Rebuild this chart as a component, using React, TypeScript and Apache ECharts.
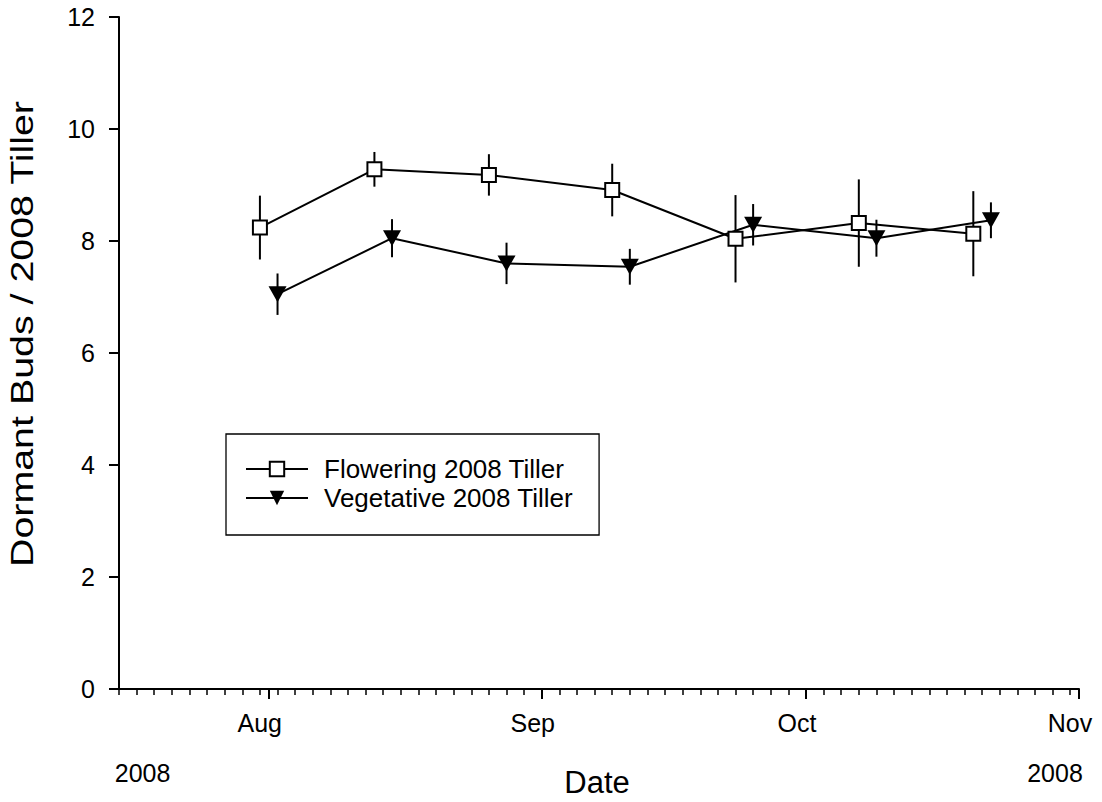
import { useEffect, useRef } from "react";
import * as echarts from "echarts";

// ---- data ----
const axisStartDate = "2008-07-15";
const axisEndDate = "2008-11-01";
const monthTickDates = ["2008-08-01", "2008-09-01", "2008-10-01", "2008-11-01"];
const monthTickLabels = ["Aug", "Sep", "Oct", "Nov"];
const yearLabels = ["2008", "2008"];

const floweringName = "Flowering 2008 Tiller";
const floweringDates = ["2008-07-31", "2008-08-13", "2008-08-26", "2008-09-09", "2008-09-23", "2008-10-07", "2008-10-20"];
const floweringMeans = [8.24, 9.28, 9.18, 8.91, 8.04, 8.32, 8.13];
const floweringErrors = [0.57, 0.31, 0.37, 0.47, 0.78, 0.78, 0.76];

const vegetativeName = "Vegetative 2008 Tiller";
const vegetativeDates = ["2008-08-02", "2008-08-15", "2008-08-28", "2008-09-11", "2008-09-25", "2008-10-09", "2008-10-22"];
const vegetativeMeans = [7.05, 8.05, 7.6, 7.54, 8.29, 8.05, 8.37];
const vegetativeErrors = [0.37, 0.34, 0.37, 0.32, 0.37, 0.33, 0.32];

const yTitle = "Dormant Buds / 2008 Tiller";
const xTitle = "Date";

// ---- helpers ----
const FONT = "'Liberation Sans', Arial, Helvetica, sans-serif";
const DAY_MS = 86400000;
const dayOf = (s: string) =>
  Math.round((Date.parse(s + "T00:00:00Z") - Date.parse(axisStartDate + "T00:00:00Z")) / DAY_MS);

const errorSeries = (dates: string[], means: number[], errs: number[]) => ({
  type: "custom",
  silent: true,
  z: 1,
  xAxisIndex: 0,
  yAxisIndex: 0,
  encode: { x: 0, y: [1, 2] },
  data: dates.map((d, i) => [dayOf(d), means[i] - errs[i], means[i] + errs[i]]),
  renderItem: (_params: any, api: any) => {
    const lo = api.coord([api.value(0), api.value(1)]);
    const hi = api.coord([api.value(0), api.value(2)]);
    return {
      type: "line",
      shape: { x1: lo[0], y1: lo[1], x2: hi[0], y2: hi[1] },
      style: { stroke: "#000", lineWidth: 2 },
    };
  },
});

export default function App() {
  const ref = useRef<HTMLDivElement>(null);

  useEffect(() => {
    if (!ref.current) return;
    const chart = echarts.init(ref.current, undefined, { renderer: "svg" });
    const xMax = dayOf(axisEndDate);
    const monthDays = monthTickDates.map(dayOf);

    chart.setOption({
      animation: false,
      backgroundColor: "#fff",
      grid: { left: 119, top: 17, right: 1102 - 1079, bottom: 802 - 689, containLabel: false },
      legend: {
        data: [floweringName, vegetativeName],
        orient: "vertical",
        left: 226,
        top: 434,
        padding: [22, 26, 24, 19],
        itemGap: 3,
        itemWidth: 62,
        itemHeight: 18,
        borderColor: "#000",
        borderWidth: 1.3,
        textStyle: { fontSize: 26, color: "#000", fontFamily: FONT, padding: [0, 0, 0, 11], lineHeight: 26 },
      },
      xAxis: [
        {
          type: "value",
          min: 0,
          max: xMax,
          interval: 2,
          position: "bottom",
          axisLine: { show: true, lineStyle: { color: "#000", width: 2 } },
          axisTick: { show: true, length: 6, lineStyle: { color: "#000", width: 1.5 } },
          axisLabel: { show: false },
          splitLine: { show: false },
        },
        {
          type: "value",
          min: 0,
          max: xMax,
          position: "bottom",
          axisLine: { show: false },
          axisTick: { show: true, length: 10, customValues: monthDays, lineStyle: { color: "#000", width: 2 } },
          axisLabel: {
            show: true,
            customValues: monthDays,
            formatter: (v: number) => {
              const i = monthDays.indexOf(Math.round(v));
              return i >= 0 ? monthTickLabels[i] : "";
            },
            fontSize: 25,
            color: "#000",
            fontFamily: FONT,
            margin: 21,
            padding: [0, 18, 0, 0],
          },
          splitLine: { show: false },
        },
      ],
      yAxis: {
        type: "value",
        min: 0,
        max: 12,
        interval: 2,
        axisLine: { show: true, lineStyle: { color: "#000", width: 2 } },
        axisTick: { show: true, length: 10, lineStyle: { color: "#000", width: 2 } },
        axisLabel: { fontSize: 25, color: "#000", fontFamily: FONT, margin: 24 },
        splitLine: { show: false },
      },
      graphic: [
        {
          type: "text",
          x: 23,
          y: 334,
          rotation: Math.PI / 2,
          scaleX: 1.27,
          style: {
            text: yTitle,
            fontSize: 31,
            fontFamily: FONT,
            fill: "#000",
            textAlign: "center",
            textVerticalAlign: "middle",
          },
        },
        {
          type: "text",
          x: 597,
          y: 782,
          style: { text: xTitle, fontSize: 31, fontFamily: FONT, fill: "#000", textAlign: "center", textVerticalAlign: "middle" },
        },
        {
          type: "text",
          x: 142.6,
          y: 773,
          style: { text: yearLabels[0], fontSize: 25, fontFamily: FONT, fill: "#000", textAlign: "center", textVerticalAlign: "middle" },
        },
        {
          type: "text",
          x: 1055,
          y: 773,
          style: { text: yearLabels[1], fontSize: 25, fontFamily: FONT, fill: "#000", textAlign: "center", textVerticalAlign: "middle" },
        },
      ],
      series: [
        errorSeries(floweringDates, floweringMeans, floweringErrors),
        errorSeries(vegetativeDates, vegetativeMeans, vegetativeErrors),
        {
          name: floweringName,
          type: "line",
          z: 3,
          xAxisIndex: 0,
          yAxisIndex: 0,
          data: floweringDates.map((d, i) => [dayOf(d), floweringMeans[i]]),
          symbol: "rect",
          symbolSize: 14,
          lineStyle: { color: "#000", width: 2 },
          itemStyle: { color: "#fff", borderColor: "#000", borderWidth: 2 },
          emphasis: { disabled: true },
        },
        {
          name: vegetativeName,
          type: "line",
          z: 3,
          xAxisIndex: 0,
          yAxisIndex: 0,
          data: vegetativeDates.map((d, i) => [dayOf(d), vegetativeMeans[i]]),
          symbol: "triangle",
          symbolRotate: 180,
          symbolSize: [18, 16],
          lineStyle: { color: "#000", width: 2 },
          itemStyle: { color: "#000", borderColor: "#000", borderWidth: 0 },
          emphasis: { disabled: true },
        },
      ],
    });
    return () => chart.dispose();
  }, []);

  return (
    <div
      ref={ref}
      style={{ position: "absolute", left: 0, top: 0, width: 1102, height: 802, background: "#fff" }}
    />
  );
}
